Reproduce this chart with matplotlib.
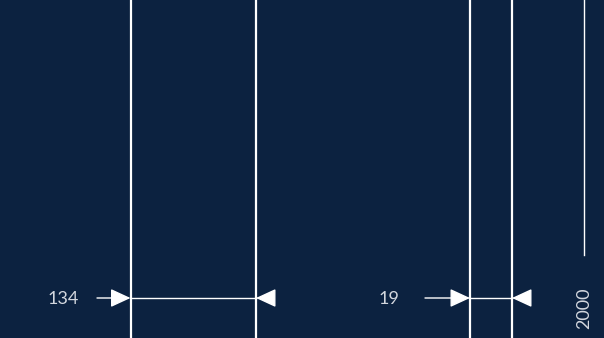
import matplotlib.pyplot as plt

# vertical lines (x positions) and the gaps they mark
line_x = [130.5, 256, 470, 512]
gap_pairs = [(0, 1), (2, 3)]
gap_labels = ['134', '19']
tail_x = [97, 425]
label_x = [63, 389]
year_label = '2000'
year_x = 584

bg = '#0c2240'
fg = '#ffffff'
txt = '#d3d7de'

fig = plt.figure(figsize=(6.04, 3.38), dpi=100)
fig.patch.set_facecolor(bg)
ax = fig.add_axes([0, 0, 1, 1])
ax.set_facecolor(bg)
ax.set_xlim(0, 604)
ax.set_ylim(338, 0)
ax.axis('off')

for x in line_x:
    ax.axvline(x, color=fg, lw=1.6)

arrow_y = 298
head = dict(arrowstyle='-|>,head_length=0.65,head_width=0.3', color=fg, lw=1,
            mutation_scale=19, shrinkA=0, shrinkB=0)
for (i, j), lab, tx, lx in zip(gap_pairs, gap_labels, tail_x, label_x):
    left, right = line_x[i], line_x[j]
    ax.plot([left, right], [arrow_y, arrow_y], color=fg, lw=1)
    ax.annotate('', xy=(left, arrow_y), xytext=(tx, arrow_y), arrowprops=head)
    ax.annotate('', xy=(right, arrow_y), xytext=(right + 17, arrow_y),
                arrowprops=head)
    ax.text(lx, arrow_y + 1, lab, color=txt, fontsize=13, family='Lato',
            ha='center', va='center')

ax.plot([year_x, year_x], [0, 255], color=fg, lw=1)
ax.text(year_x, 308, year_label, color=txt, fontsize=13, family='Lato',
        rotation=90, ha='center', va='center')

fig.savefig('out.png', dpi=100, facecolor=bg)
